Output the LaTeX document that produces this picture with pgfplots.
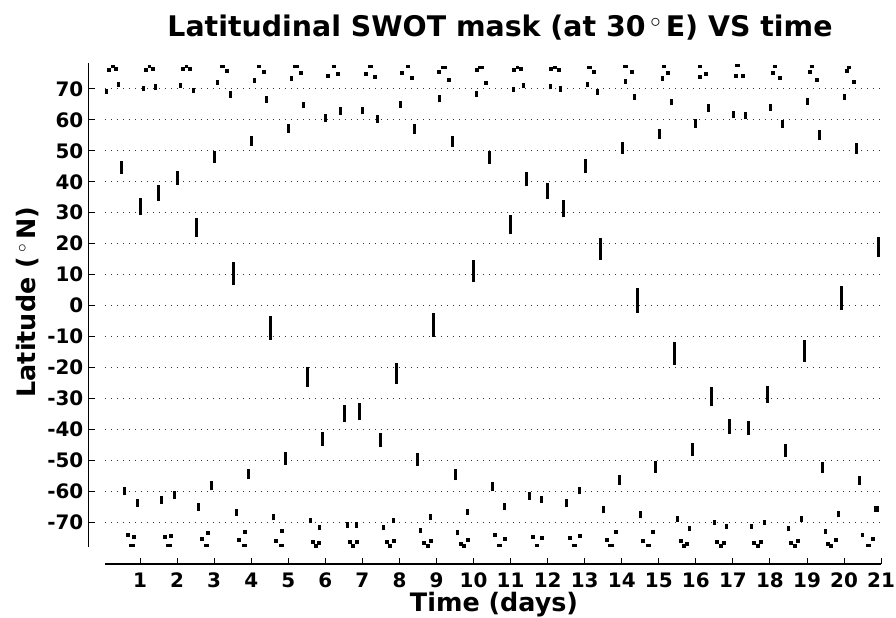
\documentclass[border=0pt]{standalone}
\usepackage{fontspec}
\setmainfont{DejaVu Sans}
\usepackage{pgfplots}
\pgfplotsset{compat=1.18}
\usepackage{pgfplotstable}

\pgfplotstableread{
x y1 y2
0.10 68.3 69.9
0.43 70.6 72.2
1.09 69.3 70.8
1.42 69.8 71.5
2.09 70.4 72.0
2.43 68.6 70.4
3.09 71.3 73.0
3.43 67.2 69.3
4.08 72.0 73.7
4.42 65.6 67.7
5.09 72.7 74.3
5.42 63.7 65.9
6.00 59.2 61.8
6.42 61.6 64.1
7.01 61.8 64.2
7.42 59.0 61.6
8.02 64.0 66.1
8.42 55.6 58.6
9.08 65.7 68.0
9.43 51.4 54.8
10.08 67.3 69.3
10.42 45.7 49.9
11.09 68.9 70.7
11.35 70.2 71.8
12.09 69.9 71.6
12.34 69.1 71.0
13.08 70.7 72.4
13.34 68.1 69.9
14.09 71.6 73.2
14.34 66.4 68.4
15.10 72.6 74.2
15.35 64.7 66.9
16.00 57.5 60.2
16.34 62.7 65.0
17.01 60.5 62.9
17.34 60.2 62.7
18.01 62.9 65.1
18.34 57.3 60.0
19.01 64.8 67.0
19.34 53.5 56.7
20.00 66.4 68.4
20.34 48.9 52.4
0.50 42.5 46.7
1.00 29.1 34.6
1.51 33.9 38.9
2.00 39.0 43.6
2.51 22.1 28.4
3.00 46.2 50.0
3.51 6.5 14.0
4.01 51.7 54.9
4.51 -11.0 -3.4
5.00 55.9 58.7
5.51 -26.2 -19.8
5.92 -45.4 -40.8
6.51 -37.6 -32.2
6.92 -37.1 -31.6
7.50 -45.9 -41.3
7.93 -25.5 -18.7
8.50 -51.8 -47.8
8.92 -10.1 -2.3
9.51 -56.5 -53.0
10.00 7.5 14.8
11.01 23.0 29.3
11.42 38.5 43.2
12.00 34.4 39.7
12.42 28.5 34.2
13.01 42.7 47.3
13.43 14.7 21.7
14.01 49.1 52.7
14.42 -2.3 5.5
15.02 53.7 57.0
15.42 -19.2 -11.7
15.92 -48.7 -44.6
16.43 -32.4 -26.5
16.92 -41.6 -36.7
17.42 -42.0 -37.2
17.93 -31.6 -25.9
18.43 -48.9 -44.8
18.92 -18.2 -11.0
19.42 -54.0 -50.5
19.93 -1.5 6.3
20.42 -58.0 -55.1
20.93 15.6 22.3
0.58 -61.4 -58.6
0.92 -65.1 -62.7
1.59 -64.2 -61.5
1.92 -62.6 -60.0
2.59 -66.4 -64.0
2.92 -59.8 -56.7
3.59 -67.9 -65.8
3.92 -56.2 -52.7
4.59 -69.5 -67.5
4.93 -51.6 -47.5
5.59 -70.4 -68.6
5.84 -72.6 -71.0
6.60 -71.8 -70.1
6.85 -71.8 -70.0
7.58 -72.7 -71.1
7.84 -70.3 -68.6
8.58 -73.5 -71.8
8.84 -69.4 -67.3
9.58 -74.3 -72.7
9.83 -67.8 -65.7
10.51 -60.0 -57.0
10.84 -66.1 -63.7
11.51 -62.8 -60.2
11.84 -63.9 -61.5
12.51 -65.3 -62.7
12.86 -61.1 -58.7
13.51 -67.2 -64.7
13.93 -58.0 -54.8
14.50 -68.8 -66.5
14.92 -54.0 -50.3
15.51 -69.9 -68.2
15.84 -73.0 -71.4
16.51 -71.0 -69.4
16.84 -72.1 -70.5
17.51 -72.1 -70.6
17.84 -71.0 -69.2
18.51 -73.0 -71.4
18.84 -69.9 -67.9
19.50 -73.8 -72.3
19.85 -68.5 -66.4
20.50 -74.9 -73.4
}\barsdata

\pgfplotstableread{
x1 x2 y
0.22 0.31 77.2
1.21 1.30 77.2
2.21 2.30 77.3
3.16 3.29 77.2
4.15 4.27 77.2
5.14 5.28 77.4
6.17 6.30 77.4
7.15 7.29 77.4
8.18 8.29 77.2
9.12 9.28 77.0
10.13 10.28 77.0
11.15 11.24 77.1
12.15 12.24 77.0
13.06 13.19 77.0
14.04 14.18 77.2
15.08 15.20 77.2
16.07 16.16 77.4
17.06 17.19 77.5
18.08 18.18 77.4
19.07 19.20 77.2
20.07 20.18 77.0
0.71 0.86 -77.7
1.71 1.86 -77.7
2.72 2.86 -77.7
3.75 3.88 -77.7
4.75 4.88 -77.7
10.64 10.78 -77.7
11.65 11.78 -77.7
12.65 12.78 -77.7
13.64 13.78 -77.7
14.65 14.78 -77.7
20.60 20.72 -77.5
}\dashdata

\pgfplotstableread{
x y
0.16 76.1
0.34 76.4
1.15 76.2
1.35 76.4
2.16 76.4
2.35 76.3
3.35 75.9
4.34 75.6
5.33 75.1
6.08 74.1
6.33 74.7
7.09 74.8
7.34 74.0
8.08 75.1
8.35 73.5
9.07 75.6
9.34 72.9
10.09 76.2
10.34 72.0
11.09 76.2
11.28 76.5
12.09 76.3
12.30 76.1
13.26 75.6
14.27 75.6
15.26 75.1
16.10 73.8
16.27 74.8
17.08 74.3
17.27 74.3
18.09 75.1
18.27 73.4
19.08 75.6
19.27 72.9
20.08 75.8
20.27 72.4
0.67 -74.2
0.84 -75.0
1.67 -74.8
1.84 -74.6
2.67 -75.5
2.84 -73.7
3.67 -75.8
3.83 -73.1
4.67 -76.0
4.84 -72.8
5.68 -76.4
5.75 -77.6
5.84 -76.7
6.66 -76.4
6.76 -77.6
6.86 -76.4
7.66 -76.4
7.75 -77.6
7.85 -76.2
8.67 -76.9
8.76 -77.6
8.85 -76.0
9.65 -77.1
9.74 -77.6
9.85 -75.7
10.59 -74.1
10.85 -75.4
11.60 -74.8
11.86 -75.3
12.60 -75.3
12.86 -74.5
13.60 -75.7
13.85 -73.3
14.58 -76.0
14.85 -73.2
15.59 -76.2
15.68 -77.6
15.77 -77.0
16.58 -76.4
16.67 -77.6
16.77 -76.7
17.58 -76.7
17.67 -77.6
17.76 -76.4
18.58 -76.7
18.67 -77.6
18.76 -76.0
19.57 -77.1
19.66 -77.6
19.77 -75.7
20.77 -75.4
}\dotdata

\begin{document}
\begin{tikzpicture}
\useasboundingbox (0,0) rectangle (896bp,618bp);
\begin{axis}[
  scale only axis, width=792.9bp, height=501.1bp,
  at={(88.2bp,53.9bp)}, anchor=south west,
  xmin=-0.4, xmax=21, ymin=-83.6, ymax=78.4,
  axis line style={draw=none},
  clip=false,
  tick pos=left, tick align=inside,
  major tick length=6.5bp,
  every tick/.style={black, line width=1bp},
  xtick={1,2,3,4,5,6,7,8,9,10,11,12,13,14,15,16,17,18,19,20,21},
  xticklabels={1,2,3,4,5,6,7,8,9,10,11,12,13,14,15,16,17,18,19,20,21},
  ytick={-70,-60,-50,-40,-30,-20,-10,0,10,20,30,40,50,60,70},
  yticklabels={-70,-60,-50,-40,-30,-20,-10,0,10,20,30,40,50,60,70},
  xticklabel style={font=\fontsize{20}{24}\selectfont\bfseries, inner sep=0pt, anchor=north, yshift=-8.3bp},
  yticklabel style={font=\fontsize{20}{24}\selectfont\bfseries, inner sep=0pt, anchor=east, xshift=-4.7bp},
]
\pgfplotsinvokeforeach{-70,-60,-50,-40,-30,-20,-10,0,10,20,30,40,50,60,70}{
  \draw[black!80, line width=1bp, dash pattern=on 1.3bp off 4.7bp] (axis cs:0.05,#1) -- (axis cs:21,#1);
}
\draw[black, line width=1.3bp] (axis cs:-0.4,-78.2) -- (axis cs:-0.4,78.4);
\draw[black, line width=1.3bp] (axis cs:0.05,-83.6) -- (axis cs:21,-83.6);

\addplot[black, line width=3bp, quiver={u=0, v=\thisrow{y2}-\thisrow{y1}}] table[x=x, y=y1] {\barsdata};
\addplot[black, line width=3bp, quiver={u=\thisrow{x2}-\thisrow{x1}, v=0}] table[x=x1, y=y] {\dashdata};
\addplot[black, line width=6bp, quiver={u=0.15, v=0}] coordinates {(20.80,-65.75)};
\addplot[black, only marks, mark=square*, mark size=1.5bp, mark options={line width=0pt}] table[x=x, y=y] {\dotdata};
\end{axis}
\node[font=\fontsize{28.5}{34}\selectfont\bfseries, anchor=base] at (500bp,581bp) {Latitudinal SWOT mask (at 30\,$^{\circ}$\,E) VS time};
\node[font=\fontsize{25.5}{30}\selectfont\bfseries, anchor=base] at (494bp,6.5bp) {Time (days)};
\node[font=\fontsize{25.5}{30}\selectfont\bfseries, anchor=base, rotate=90] at (35.5bp,316bp) {Latitude (\,$^{\circ}$\,N)};
\end{tikzpicture}
\end{document}
